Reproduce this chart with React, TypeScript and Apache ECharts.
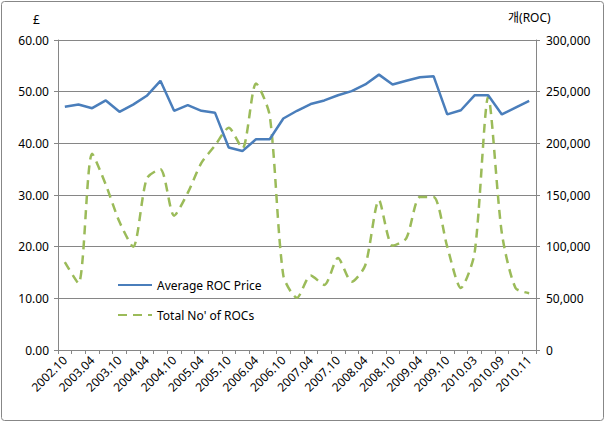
import React, { useEffect, useRef } from "react";
import * as echarts from "echarts";

const categories = [
  "2002.10", "2003.01", "2003.04", "2003.07", "2003.10", "2004.01", "2004.04", "2004.07",
  "2004.10", "2005.01", "2005.04", "2005.07", "2005.10", "2006.01", "2006.04", "2006.07",
  "2006.10", "2007.01", "2007.04", "2007.07", "2007.10", "2008.01", "2008.04", "2008.07",
  "2008.10", "2009.01", "2009.04", "2009.07", "2009.10", "2010.01", "2010.03", "2010.06",
  "2010.09", "2010.10", "2010.11",
];

const avgPrice = [
  47.1, 47.5, 46.8, 48.3, 46.1, 47.5, 49.2, 52.1, 46.3, 47.4, 46.3, 45.9,
  39.2, 38.5, 40.8, 40.8, 44.8, 46.3, 47.6, 48.3, 49.3, 50.1, 51.4, 53.3,
  51.4, 52.1, 52.8, 53.0, 45.6, 46.4, 49.3, 49.3, 45.6, 46.9, 48.2,
];

const totalRocs = [
  85000, 64500, 190000, 160000, 124000, 100000, 166000, 175000, 130000, 152000, 181000, 198000,
  215000, 195000, 258000, 227000, 72000, 50500, 72000, 63000, 89000, 66000, 82000, 145000,
  101000, 108000, 148000, 148000, 100000, 60000, 93500, 245000, 113000, 60000, 55000,
];

const leftTicks = { min: 0, max: 60, interval: 10 };
const rightTicks = { min: 0, max: 300000, interval: 50000 };

const FONT = "'Noto Sans', 'Noto Sans CJK KR', sans-serif";

export default function App() {
  const ref = useRef<HTMLDivElement>(null);
  useEffect(() => {
    if (!ref.current) return;
    const chart = echarts.init(ref.current, undefined, { renderer: "svg" });
    chart.setOption({
      animation: false,
      backgroundColor: "#ffffff",
      textStyle: { fontFamily: FONT },
      grid: { left: 58, right: 70, top: 40, bottom: 73 },
      legend: {
        orient: "vertical",
        left: 112,
        top: 274,
        itemGap: 18,
        itemWidth: 34,
        itemHeight: 14,
        itemStyle: { opacity: 0, borderWidth: 0 },
        textStyle: { fontSize: 12, color: "#000", fontFamily: FONT },
        data: ["Average ROC Price", "Total No' of ROCs"],
      },
      graphic: [
        {
          type: "rect",
          shape: { x: 1.5, y: 1.5, width: 602, height: 419, r: 3 },
          style: { fill: "none", stroke: "#878787", lineWidth: 1 },
          silent: true,
        },
        {
          type: "text",
          left: 33,
          top: 13,
          style: { text: "£", fontSize: 12, fill: "#000", fontFamily: FONT },
        },
        {
          type: "text",
          left: 508,
          top: 11,
          style: { text: "개(ROC)", fontSize: 12, fill: "#000", fontFamily: FONT },
        },
      ],
      xAxis: {
        type: "category",
        data: categories,
        boundaryGap: true,
        axisLine: { lineStyle: { color: "#868686", width: 1 } },
        axisTick: { show: true, interval: 0, length: 4, inside: false, lineStyle: { color: "#868686" } },
        axisLabel: { interval: 1, rotate: 45, fontSize: 12, color: "#000", margin: 8, fontFamily: FONT },
        splitLine: { show: false },
      },
      yAxis: [
        {
          type: "value",
          min: leftTicks.min,
          max: leftTicks.max,
          interval: leftTicks.interval,
          position: "left",
          axisLine: { show: true, lineStyle: { color: "#868686" } },
          axisTick: { show: true, length: 4, lineStyle: { color: "#868686" } },
          axisLabel: { fontSize: 12, color: "#000", margin: 9, formatter: (v: number) => v.toFixed(2), fontFamily: FONT },
          splitLine: { show: true, lineStyle: { color: "#868686", width: 1 } },
        },
        {
          type: "value",
          min: rightTicks.min,
          max: rightTicks.max,
          interval: rightTicks.interval,
          position: "right",
          axisLine: { show: true, lineStyle: { color: "#868686" } },
          axisTick: { show: true, length: 4, lineStyle: { color: "#868686" } },
          axisLabel: {
            fontSize: 12,
            color: "#000",
            margin: 10,
            fontFamily: FONT,
            formatter: (v: number) => v.toLocaleString("en-US"),
          },
          splitLine: { show: false },
        },
      ],
      series: [
        {
          name: "Average ROC Price",
          type: "line",
          data: avgPrice,
          yAxisIndex: 0,
          symbol: "none",
          lineStyle: { color: "#4A7EBB", width: 2.5 },
          itemStyle: { color: "#4A7EBB" },
          z: 3,
        },
        {
          name: "Total No' of ROCs",
          type: "line",
          data: totalRocs,
          yAxisIndex: 1,
          symbol: "none",
          smooth: 0.25,
          lineStyle: { color: "#9BBB59", width: 2.5, type: [9, 6] },
          itemStyle: { color: "#9BBB59" },
          z: 2,
        },
      ],
    });
    return () => chart.dispose();
  }, []);
  return (
    <div
      ref={ref}
      style={{ position: "fixed", left: 0, top: 0, width: 606, height: 423 }}
    />
  );
}
